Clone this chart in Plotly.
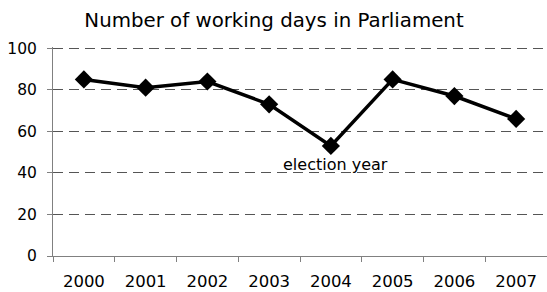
import plotly.graph_objects as go

years = ["2000", "2001", "2002", "2003", "2004", "2005", "2006", "2007"]
days = [85, 81, 84, 73, 53, 85, 77, 66]
y_ticks = [0, 20, 40, 60, 80, 100]
title_text = "Number of working days in Parliament"
note_text = "election year"
note_year = "2004"
note_value = 44

W, H = 547, 292
left, right_px = 53.4, 547
top100, bottom_px = 48.3, 255.7
y_max = 100.6
top_px = bottom_px - (bottom_px - top100) * y_max / 100

FONT = "DejaVu Sans"

fig = go.Figure()
fig.add_trace(go.Scatter(
    x=years, y=days, mode="lines+markers",
    line=dict(color="black", width=3.5),
    marker=dict(symbol="diamond", size=14, color="black"),
    cliponaxis=False, showlegend=False, hoverinfo="skip",
))

fig.update_xaxes(
    type="category", range=[-0.5, len(years) - 0.5],
    showgrid=False, showline=True, linecolor="#808080", linewidth=1,
    ticks="outside", ticklen=5, tickcolor="#808080", tickson="boundaries",
    tickfont=dict(family=FONT, size=16.5, color="black"),
    ticklabelstandoff=10, zeroline=False,
)
fig.update_yaxes(
    range=[0, y_max], tickvals=y_ticks,
    showgrid=True, gridcolor="#555555", gridwidth=1, griddash="10px,6px",
    showline=True, linecolor="#808080", linewidth=1,
    ticks="outside", ticklen=5, tickcolor="#808080",
    tickfont=dict(family=FONT, size=15.5, color="black"),
    ticklabelstandoff=7, zeroline=False,
)
fig.add_annotation(
    xref="x", yref="y",
    x=years.index(note_year), y=note_value, text=note_text, showarrow=False,
    xshift=5, yanchor="middle",
    font=dict(family=FONT, size=16, color="black"),
)
fig.update_layout(
    width=W, height=H,
    margin=dict(l=left, r=W - right_px, t=top_px, b=H - bottom_px, pad=0),
    paper_bgcolor="white", plot_bgcolor="white",
    title=dict(text=title_text, x=274 / W, xanchor="center",
               y=1 - 19.7 / H, yanchor="middle", yref="container",
               font=dict(family=FONT, size=19.8, color="black")),
)
fig.write_html("out.html",
               config={"displayModeBar": False, "staticPlot": True},
               post_script="document.body.style.margin='0';document.body.style.padding='0';")
